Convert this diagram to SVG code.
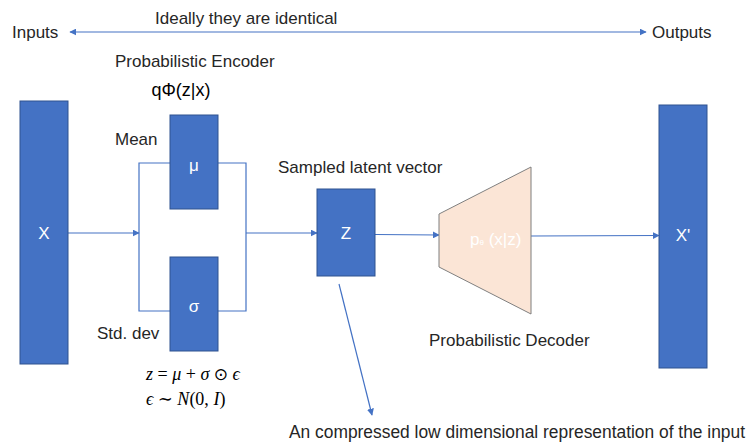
<svg xmlns="http://www.w3.org/2000/svg" width="751" height="443" viewBox="0 0 751 443">
<style>
text{font-family:"Liberation Sans",Arial,sans-serif;font-size:17px;fill:#262626}
.box{fill:#4472C4;stroke:#2F528F;stroke-width:1}
.w{fill:#ffffff;text-anchor:middle}
.ln{fill:none;stroke:#4472C4;stroke-width:1.2}
.m{font-family:"Liberation Serif","DejaVu Serif",serif;font-style:italic;font-size:18px;fill:#000}
.u{font-style:normal}
</style>
<defs>
<marker id="ah" viewBox="0 0 10 10" refX="9" refY="5" markerWidth="7" markerHeight="7" markerUnits="userSpaceOnUse" orient="auto-start-reverse">
<path d="M0,0 L10,5 L0,10 z" fill="#4472C4"/>
</marker>
</defs>
<rect width="751" height="443" fill="#fff"/>
<g id="labels">
<text x="155" y="24">Ideally they are identical</text>
<text x="12" y="38">Inputs</text>
<text x="652" y="38">Outputs</text>
<text x="115" y="67">Probabilistic Encoder</text>
<text x="181" y="96" text-anchor="middle" style="font-size:18px;fill:#000">qΦ(z|x)</text>
<text x="115" y="145">Mean</text>
<text x="97" y="339">Std. dev</text>
<text x="278" y="173">Sampled latent vector</text>
<text x="429" y="346">Probabilistic Decoder</text>
<text x="289" y="438" textLength="456" lengthAdjust="spacingAndGlyphs" style="font-size:17.5px">An compressed low dimensional representation of the input</text>
<text class="m" x="146" y="380">z <tspan class="u">=</tspan> μ <tspan class="u">+</tspan> σ <tspan class="u" font-family="DejaVu Sans" font-size="17">⊙</tspan> ϵ</text>
<text class="m" x="146" y="405">ϵ <tspan class="u">∼</tspan> N<tspan class="u">(0,</tspan> I<tspan class="u">)</tspan></text>
</g>
<g id="connectors">
<line class="ln" x1="70" y1="32" x2="646" y2="32" marker-start="url(#ah)" marker-end="url(#ah)"/>
<line class="ln" x1="68" y1="233" x2="139" y2="233" marker-end="url(#ah)"/>
<polyline class="ln" points="170,163 139,163 139,311 170,311"/>
<polyline class="ln" points="218,163 246,163 246,311 218,311"/>
<line class="ln" x1="246" y1="233" x2="317" y2="233" marker-end="url(#ah)"/>
<line class="ln" x1="375" y1="234.5" x2="439" y2="235" marker-end="url(#ah)"/>
<line class="ln" x1="531" y1="236" x2="659" y2="235.5" marker-end="url(#ah)"/>
<line class="ln" x1="339" y1="284" x2="372" y2="415" marker-end="url(#ah)"/>
</g>
<g id="node-x">
<rect class="box" x="20" y="101" width="48" height="263"/>
<text class="w" x="44" y="239">X</text>
</g>
<g id="node-mu">
<rect class="box" x="170" y="115" width="48" height="94"/>
<text class="w" x="194" y="171">μ</text>
</g>
<g id="node-sigma">
<rect class="box" x="170" y="257" width="48" height="94"/>
<text class="w" x="194" y="312">σ</text>
</g>
<g id="node-z">
<rect class="box" x="317" y="189" width="58" height="87"/>
<text class="w" x="346" y="239">Z</text>
</g>
<g id="node-decoder">
<polygon points="439,214 531,167 531,314 439,267" fill="#FBE5D6" stroke="#7F7F7F" stroke-width="1"/>
<text x="470" y="245" style="fill:#ffffff">p<tspan font-size="8">θ</tspan> (x|z)</text>
</g>
<g id="node-xprime">
<rect class="box" x="659" y="105" width="48" height="263"/>
<text class="w" x="683" y="241">X'</text>
</g>
</svg>
